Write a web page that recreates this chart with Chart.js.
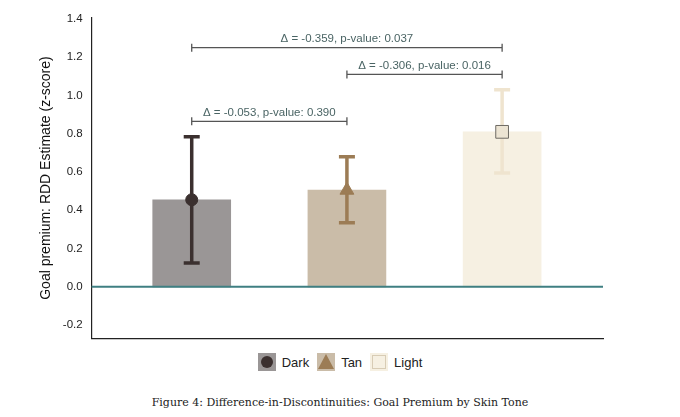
<!DOCTYPE html>
<html><head><meta charset="utf-8">
<script src="https://cdn.jsdelivr.net/npm/chart.js@4"></script>
<style>
body{margin:0;background:#fff;width:680px;height:417px;position:relative;font-family:"Liberation Sans",Arial,sans-serif}
#wrap{position:absolute;left:0;top:0;width:620px;height:349px}
#legend{position:absolute;top:353px;left:0;width:680px;text-align:center;font-size:13px;color:#222}
#legend span.it{display:inline-flex;align-items:center;margin:0 4px}
#legend canvas{margin-right:6px}
#cap{position:absolute;top:396px;left:0;width:680px;text-align:center;font-family:"DejaVu Serif","Liberation Serif",serif;font-size:11px;color:#222}
</style></head><body>
<div id="wrap"><canvas id="c"></canvas></div>
<div id="legend"></div>
<div id="cap">Figure 4: Difference-in-Discontinuities: Goal Premium by Skin Tone</div>
<script>
const categories = ['Dark', 'Tan', 'Light'];
const estimates = [0.455, 0.505, 0.81];
const ciLow = [0.125, 0.335, 0.595];
const ciHigh = [0.785, 0.68, 1.03];
const barColors = ['#9a9696', '#cabca8', '#f6f0e2'];
const markColors = ['#3b302f', '#9c7c55', '#efe4cf'];
const markStyles = ['circle', 'triangle', 'rect'];
const yTicks = [-0.2, 0, 0.2, 0.4, 0.6, 0.8, 1.0, 1.2, 1.4];
const comparisons = [
  {from: 0, to: 2, y: 1.25, label: 'Δ = -0.359, p-value: 0.037'},
  {from: 1, to: 2, y: 1.11, label: 'Δ = -0.306, p-value: 0.016'},
  {from: 0, to: 1, y: 0.865, label: 'Δ = -0.053, p-value: 0.390'}
];

const overlay = {
  id: 'overlay',
  afterDatasetDraw(chart, args) {
    if (args.index !== 0) return;
    const ctx = chart.ctx, x = chart.scales.x, y = chart.scales.y;
    ctx.save();
    ctx.strokeStyle = '#3f7f82'; ctx.lineWidth = 2;
    ctx.beginPath(); ctx.moveTo(x.left, y.getPixelForValue(0)); ctx.lineTo(x.right, y.getPixelForValue(0)); ctx.stroke();
    categories.forEach((c, i) => {
      const px = x.getPixelForValue(i), lo = y.getPixelForValue(ciLow[i]), hi = y.getPixelForValue(ciHigh[i]);
      ctx.strokeStyle = markColors[i]; ctx.lineWidth = 3.5;
      ctx.beginPath(); ctx.moveTo(px, lo); ctx.lineTo(px, hi);
      ctx.moveTo(px - 8, lo); ctx.lineTo(px + 8, lo);
      ctx.moveTo(px - 8, hi); ctx.lineTo(px + 8, hi); ctx.stroke();
    });
    ctx.restore();
  },
  afterDatasetsDraw(chart) {
    const ctx = chart.ctx, x = chart.scales.x, y = chart.scales.y;
    ctx.save();
    ctx.strokeStyle = '#555'; ctx.lineWidth = 1.3; ctx.fillStyle = '#4a6464';
    ctx.font = '11.5px "Liberation Sans", Arial, sans-serif'; ctx.textAlign = 'center'; ctx.textBaseline = 'bottom';
    comparisons.forEach(cmp => {
      const x1 = x.getPixelForValue(cmp.from), x2 = x.getPixelForValue(cmp.to), py = y.getPixelForValue(cmp.y);
      ctx.beginPath(); ctx.moveTo(x1, py); ctx.lineTo(x2, py);
      ctx.moveTo(x1, py - 4); ctx.lineTo(x1, py + 4);
      ctx.moveTo(x2, py - 4); ctx.lineTo(x2, py + 4); ctx.stroke();
      ctx.fillText(cmp.label, (x1 + x2) / 2, py - 3);
    });
    ctx.restore();
  }
};

new Chart(document.getElementById('c'), {
  type: 'bar',
  data: {
    datasets: [
      {type: 'bar', data: estimates.map((v, i) => ({x: i, y: v})), backgroundColor: barColors, barThickness: 78, order: 2},
      {type: 'scatter', data: estimates.map((v, i) => ({x: i, y: v})), pointStyle: markStyles,
       pointRadius: [6, 8, 9], backgroundColor: ['#3b302f', '#9c7c55', '#ece4d3'], borderColor: ['#3b302f', '#9c7c55', '#6e6a64'],
       borderWidth: 1, order: 1}
    ]
  },
  plugins: [overlay],
  options: {
    responsive: true, maintainAspectRatio: false, animation: false,
    layout: {padding: {top: 18, right: 17, left: 34}},
    plugins: {legend: {display: false}, tooltip: {enabled: false}},
    scales: {
      x: {type: 'linear', min: -0.645, max: 2.65, offset: false,
          grid: {display: false, drawTicks: false}, border: {color: '#222', width: 1.2},
          ticks: {display: false}},
      y: {min: -0.268, max: 1.405, afterBuildTicks: s => { s.ticks = yTicks.map(v => ({value: v})); },
          grid: {display: false, drawTicks: true, tickLength: 5, tickColor: '#222'}, border: {color: '#222', width: 1.2},
          ticks: {color: '#222', font: {size: 11.5}, callback: v => v.toFixed(1), padding: 4},
          title: {display: true, text: 'Goal premium: RDD Estimate (z-score)', color: '#111', font: {size: 14}}}
    }
  }
});

const lg = document.getElementById('legend');
categories.forEach((c, i) => {
  const s = document.createElement('span'); s.className = 'it';
  const cv = document.createElement('canvas'); cv.width = 18; cv.height = 18;
  const g = cv.getContext('2d');
  g.fillStyle = barColors[i]; g.fillRect(0, 0, 18, 18);
  g.fillStyle = markColors[i];
  if (i === 0) { g.beginPath(); g.arc(9, 9, 6, 0, 7); g.fill(); }
  if (i === 1) { g.beginPath(); g.moveTo(9, 1); g.lineTo(17, 16); g.lineTo(1, 16); g.fill(); }
  if (i === 2) { g.strokeStyle = '#d8ccb5'; g.strokeRect(2.5, 2.5, 13, 13); }
  s.appendChild(cv); s.appendChild(document.createTextNode(c)); lg.appendChild(s);
});
</script>
</body></html>
